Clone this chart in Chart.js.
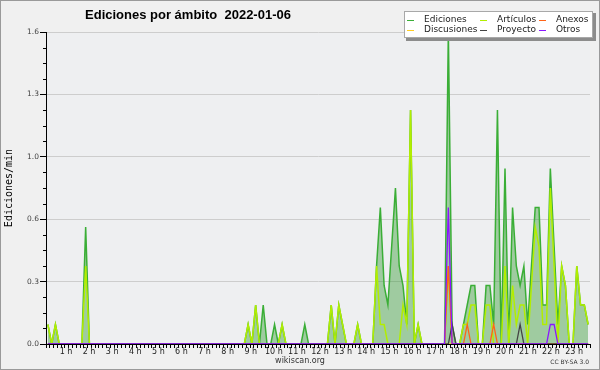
<!DOCTYPE html>
<html>
<head>
<meta charset="utf-8">
<title>Ediciones por ámbito 2022-01-06</title>
<script src="https://cdn.jsdelivr.net/npm/chart.js@4.4.1/dist/chart.umd.min.js"></script>
<style>
  html, body { margin: 0; padding: 0; background: #f0f0f0; }
  canvas { display: block; }
</style>
</head>
<body>
<canvas id="ambitoChart" width="600" height="370"></canvas>
<script>
'use strict';
//=================Data===================//
// one value per 10 minutes (144 bins), edits per minute
var ediciones = [
  0.1, 0, 0.1, 0, 0, 0, 0, 0, 0, 0, 0.6, 0,
  0, 0, 0, 0, 0, 0, 0, 0, 0, 0, 0, 0,
  0, 0, 0, 0, 0, 0, 0, 0, 0, 0, 0, 0,
  0, 0, 0, 0, 0, 0, 0, 0, 0, 0, 0, 0,
  0, 0, 0, 0, 0, 0.1, 0, 0.2, 0, 0.2, 0, 0,
  0.1, 0, 0.1, 0, 0, 0, 0, 0, 0.1, 0, 0, 0,
  0, 0, 0, 0.2, 0, 0.2, 0.1, 0, 0, 0, 0.1, 0,
  0, 0, 0, 0.4, 0.7, 0.3, 0.2, 0.5, 0.8, 0.4, 0.3, 0.1,
  1.2, 0, 0.1, 0, 0, 0, 0, 0, 0, 0, 1.6, 0.1,
  0, 0, 0.1, 0.2, 0.3, 0.3, 0, 0, 0.3, 0.3, 0.1, 1.2,
  0, 0.9, 0, 0.7, 0.4, 0.3, 0.4, 0.1, 0.4, 0.7, 0.7, 0.2,
  0.2, 0.9, 0.5, 0.1, 0.4, 0.3, 0, 0, 0.4, 0.2, 0.2, 0.1
];
var articulos = [
  0.1, 0, 0.1, 0, 0, 0, 0, 0, 0, 0, 0.4, 0,
  0, 0, 0, 0, 0, 0, 0, 0, 0, 0, 0, 0,
  0, 0, 0, 0, 0, 0, 0, 0, 0, 0, 0, 0,
  0, 0, 0, 0, 0, 0, 0, 0, 0, 0, 0, 0,
  0, 0, 0, 0, 0, 0.1, 0, 0.2, 0, 0, 0, 0,
  0, 0, 0.1, 0, 0, 0, 0, 0, 0, 0, 0, 0,
  0, 0, 0, 0.2, 0, 0.2, 0.1, 0, 0, 0, 0.1, 0,
  0, 0, 0, 0.4, 0.1, 0.1, 0, 0, 0, 0, 0.2, 0.1,
  1.2, 0, 0.1, 0, 0, 0, 0, 0, 0, 0, 0.4, 0,
  0, 0, 0.1, 0.1, 0.2, 0.2, 0, 0, 0.2, 0.2, 0, 0,
  0, 0.4, 0, 0.3, 0.1, 0.2, 0.2, 0, 0.3, 0.6, 0.5, 0.1,
  0.1, 0.8, 0.4, 0, 0.4, 0.3, 0, 0, 0.4, 0.2, 0.2, 0.1
];
var anexos = [
  0, 0, 0, 0, 0, 0, 0, 0, 0, 0, 0, 0,
  0, 0, 0, 0, 0, 0, 0, 0, 0, 0, 0, 0,
  0, 0, 0, 0, 0, 0, 0, 0, 0, 0, 0, 0,
  0, 0, 0, 0, 0, 0, 0, 0, 0, 0, 0, 0,
  0, 0, 0, 0, 0, 0, 0, 0, 0, 0, 0, 0,
  0, 0, 0, 0, 0, 0, 0, 0, 0, 0, 0, 0,
  0, 0, 0, 0, 0, 0, 0, 0, 0, 0, 0, 0,
  0, 0, 0, 0, 0, 0, 0, 0, 0, 0, 0, 0,
  0, 0, 0, 0, 0, 0, 0, 0, 0, 0, 0.4, 0,
  0, 0, 0, 0.1, 0, 0, 0, 0, 0, 0, 0.1, 0,
  0, 0, 0, 0, 0, 0, 0, 0, 0, 0, 0, 0,
  0, 0, 0, 0, 0, 0, 0, 0, 0, 0, 0, 0
];
var discusiones = [
  0, 0, 0, 0, 0, 0, 0, 0, 0, 0, 0, 0,
  0, 0, 0, 0, 0, 0, 0, 0, 0, 0, 0, 0,
  0, 0, 0, 0, 0, 0, 0, 0, 0, 0, 0, 0,
  0, 0, 0, 0, 0, 0, 0, 0, 0, 0, 0, 0,
  0, 0, 0, 0, 0, 0, 0, 0, 0, 0, 0, 0,
  0, 0, 0, 0, 0, 0, 0, 0, 0, 0, 0, 0,
  0, 0, 0, 0, 0, 0, 0, 0, 0, 0, 0, 0,
  0, 0, 0, 0, 0, 0, 0, 0, 0, 0, 0, 0,
  0, 0, 0, 0, 0, 0, 0, 0, 0, 0, 0, 0,
  0, 0, 0, 0, 0, 0, 0, 0, 0, 0, 0, 0,
  0, 0, 0, 0, 0, 0, 0, 0, 0, 0, 0, 0,
  0, 0, 0, 0, 0, 0, 0, 0, 0, 0, 0, 0
];
var proyecto = [
  0, 0, 0, 0, 0, 0, 0, 0, 0, 0, 0, 0,
  0, 0, 0, 0, 0, 0, 0, 0, 0, 0, 0, 0,
  0, 0, 0, 0, 0, 0, 0, 0, 0, 0, 0, 0,
  0, 0, 0, 0, 0, 0, 0, 0, 0, 0, 0, 0,
  0, 0, 0, 0, 0, 0, 0, 0, 0, 0, 0, 0,
  0, 0, 0, 0, 0, 0, 0, 0, 0, 0, 0, 0,
  0, 0, 0, 0, 0, 0, 0, 0, 0, 0, 0, 0,
  0, 0, 0, 0, 0, 0, 0, 0, 0, 0, 0, 0,
  0, 0, 0, 0, 0, 0, 0, 0, 0, 0, 0, 0.1,
  0, 0, 0, 0, 0, 0, 0, 0, 0, 0, 0, 0,
  0, 0, 0, 0, 0, 0.1, 0, 0, 0, 0, 0, 0,
  0, 0, 0, 0, 0, 0, 0, 0, 0, 0, 0, 0
];
var otros = [
  0, 0, 0, 0, 0, 0, 0, 0, 0, 0, 0, 0,
  0, 0, 0, 0, 0, 0, 0, 0, 0, 0, 0, 0,
  0, 0, 0, 0, 0, 0, 0, 0, 0, 0, 0, 0,
  0, 0, 0, 0, 0, 0, 0, 0, 0, 0, 0, 0,
  0, 0, 0, 0, 0, 0, 0, 0, 0, 0, 0, 0,
  0, 0, 0, 0, 0, 0, 0, 0, 0, 0, 0, 0,
  0, 0, 0, 0, 0, 0, 0, 0, 0, 0, 0, 0,
  0, 0, 0, 0, 0, 0, 0, 0, 0, 0, 0, 0,
  0, 0, 0, 0, 0, 0, 0, 0, 0, 0, 0.7, 0,
  0, 0, 0, 0, 0, 0, 0, 0, 0, 0, 0, 0,
  0, 0, 0, 0, 0, 0, 0, 0, 0, 0, 0, 0,
  0, 0.1, 0.1, 0, 0, 0, 0, 0, 0, 0, 0, 0
];

var seriesNames = ['Ediciones', 'Artículos', 'Anexos', 'Discusiones', 'Proyecto', 'Otros'];
var seriesColors = ['#3aae36', '#b2ee00', '#ff6418', '#ffcc22', '#444444', '#8a16ff'];
var hourLabels = ['1 h', '2 h', '3 h', '4 h', '5 h', '6 h', '7 h', '8 h', '9 h', '10 h', '11 h', '12 h',
  '13 h', '14 h', '15 h', '16 h', '17 h', '18 h', '19 h', '20 h', '21 h', '22 h', '23 h'];
var yMax = 1.6;
var yStep = 0.32;
var titleText = 'Ediciones por ámbito  2022-01-06';
var yTitle = 'Ediciones/min';
var siteText = 'wikiscan.org';
var licenceText = 'CC BY-SA 3.0';

//=================Helpers=================//
function toPoints(values){
  return values.map(function(v, i){
    return { x: i + 0.5, y: v };
  });
}

function makeSet(idx, values, order, width){
  return {
    label: seriesNames[idx],
    data: toPoints(values),
    borderColor: seriesColors[idx],
    backgroundColor: seriesColors[idx],
    borderWidth: width,
    pointRadius: 0,
    tension: 0,
    fill: false,
    order: order
  };
}

var edSet = makeSet(0, ediciones, 10, 1.5);
edSet.fill = 'origin';
edSet.backgroundColor = 'rgba(40, 150, 40, 0.4)';

var datasets = [
  edSet,
  makeSet(1, articulos, 6, 1.5),
  makeSet(2, anexos, 3, 1.3),
  makeSet(3, discusiones, 5, 1.3),
  makeSet(4, proyecto, 2, 1.3),
  makeSet(5, otros, 1, 1.3)
];

//=================Decorations===============//
var decorPlugin = {
  id: 'decor',
  beforeDraw: function(chart){
    var ctx = chart.ctx;
    var area = chart.chartArea;
    ctx.save();
    ctx.fillStyle = '#f0f0f0';
    ctx.fillRect(0, 0, chart.width, chart.height);
    ctx.fillStyle = '#eeeff1';
    ctx.fillRect(area.left, area.top, area.right - area.left, area.bottom - area.top);
    ctx.restore();
  },
  afterDatasetsDraw: function(chart){
    var ctx = chart.ctx;
    var area = chart.chartArea;
    var yScale = chart.scales.y;
    ctx.save();
    ctx.strokeStyle = '#000';
    ctx.lineWidth = 1;
    ctx.beginPath();
    ctx.moveTo(area.left + 0.5, area.top);
    ctx.lineTo(area.left + 0.5, area.bottom + 0.5);
    ctx.lineTo(area.right, area.bottom + 0.5);
    // minor ticks on the y axis
    for (var k = 1; k < 20; k++){
      if (k % 4 === 0) continue;
      var py = Math.round(yScale.getPixelForValue(k * yStep / 4)) + 0.5;
      ctx.moveTo(area.left - 3, py);
      ctx.lineTo(area.left + 0.5, py);
    }
    ctx.stroke();
    ctx.restore();
  },
  afterDraw: function(chart){
    var ctx = chart.ctx;
    var area = chart.chartArea;
    ctx.save();

    // title
    ctx.fillStyle = '#000';
    ctx.font = 'bold 13px "Liberation Sans", "DejaVu Sans", sans-serif';
    ctx.textAlign = 'center';
    ctx.textBaseline = 'alphabetic';
    ctx.fillText(titleText, 188, 19);

    // y axis title
    ctx.save();
    ctx.translate(9.5, (area.top + area.bottom) / 2);
    ctx.rotate(-Math.PI / 2);
    ctx.font = '10px "DejaVu Sans Mono", monospace';
    ctx.textBaseline = 'middle';
    ctx.fillStyle = '#000';
    ctx.fillText(yTitle, 0, 0);
    ctx.restore();

    // footer
    ctx.font = '8px "DejaVu Sans", sans-serif';
    ctx.fillStyle = '#333';
    ctx.textBaseline = 'middle';
    ctx.fillText(siteText, 300, 361);
    ctx.font = '6px "DejaVu Sans", sans-serif';
    ctx.textAlign = 'right';
    ctx.fillText(licenceText, 589, 362.5);

    // legend box with shadow
    ctx.fillStyle = '#8c8c8c';
    ctx.fillRect(406, 13, 190, 28);
    ctx.fillStyle = '#ffffff';
    ctx.fillRect(404, 11, 189, 27);
    ctx.strokeStyle = '#a8a8a8';
    ctx.lineWidth = 1;
    ctx.strokeRect(404.5, 11.5, 188, 26);

    var colX = [407, 480, 539];
    var rowY = [19.5, 29.5];
    ctx.font = '9px "DejaVu Sans", sans-serif';
    ctx.textAlign = 'left';
    ctx.textBaseline = 'middle';
    for (var i = 0; i < chart.data.datasets.length; i++){
      var ds = chart.data.datasets[i];
      var lx = colX[i % 3];
      var ly = rowY[Math.floor(i / 3)];
      ctx.strokeStyle = ds.borderColor;
      ctx.lineWidth = 1;
      ctx.beginPath();
      ctx.moveTo(lx, Math.round(ly) + 0.5);
      ctx.lineTo(lx + 7, Math.round(ly) + 0.5);
      ctx.stroke();
      ctx.fillStyle = '#222';
      ctx.fillText(ds.label, lx + 17, ly);
    }

    // outer frame
    ctx.strokeStyle = '#9a9a9a';
    ctx.strokeRect(0.5, 0.5, chart.width - 1, chart.height - 1);
    ctx.restore();
  }
};

//=================Chart===================//
var ctx = document.getElementById('ambitoChart').getContext('2d');
var ambitoChart = new Chart(ctx, {
  type: 'line',
  data: { datasets: datasets },
  options: {
    responsive: false,
    animation: false,
    devicePixelRatio: 1,
    layout: { padding: { left: 0, top: 32, right: 10, bottom: 0 } },
    plugins: {
      legend: { display: false },
      title: { display: false },
      tooltip: { enabled: false }
    },
    scales: {
      // 10-minute bins: tick marks only, sits right under the plot
      x: {
        type: 'linear',
        min: 0,
        max: 144,
        weight: -1,
        afterFit: function(scale){ scale.height = 0; },
        border: { display: true, color: '#000' },
        grid: { drawOnChartArea: false, tickLength: 4, tickColor: '#000' },
        ticks: {
          display: false,
          stepSize: 1,
          autoSkip: false,
          maxRotation: 0
        }
      },
      // hour labels, spaced a little wider than the bins as in the original
      hours: {
        type: 'linear',
        axis: 'x',
        position: 'bottom',
        weight: 0,
        min: 0.134,
        max: 23.69,
        afterBuildTicks: function(scale){
          scale.ticks = hourLabels.map(function(label, k){ return { value: k + 1 }; });
        },
        afterFit: function(scale){ scale.height = 26; },
        border: { display: false },
        grid: { display: false, drawTicks: false },
        ticks: {
          autoSkip: false,
          maxRotation: 0,
          minRotation: 0,
          padding: 3,
          color: '#222',
          font: { family: 'DejaVu Sans', size: 8 },
          callback: function(v){
            return hourLabels[Math.round(v) - 1] || '';
          }
        }
      },
      y: {
        min: 0,
        max: yMax,
        afterFit: function(scale){ scale.width = 46; },
        border: { display: true, color: '#000' },
        grid: { color: '#cdcdcd', tickColor: '#000', tickLength: 6 },
        ticks: {
          stepSize: yStep,
          padding: 1,
          color: '#444',
          font: { family: 'DejaVu Sans', size: 7.5 },
          callback: function(v){ return v.toFixed(1); }
        }
      }
    }
  },
  plugins: [decorPlugin]
});
</script>
</body>
</html>
